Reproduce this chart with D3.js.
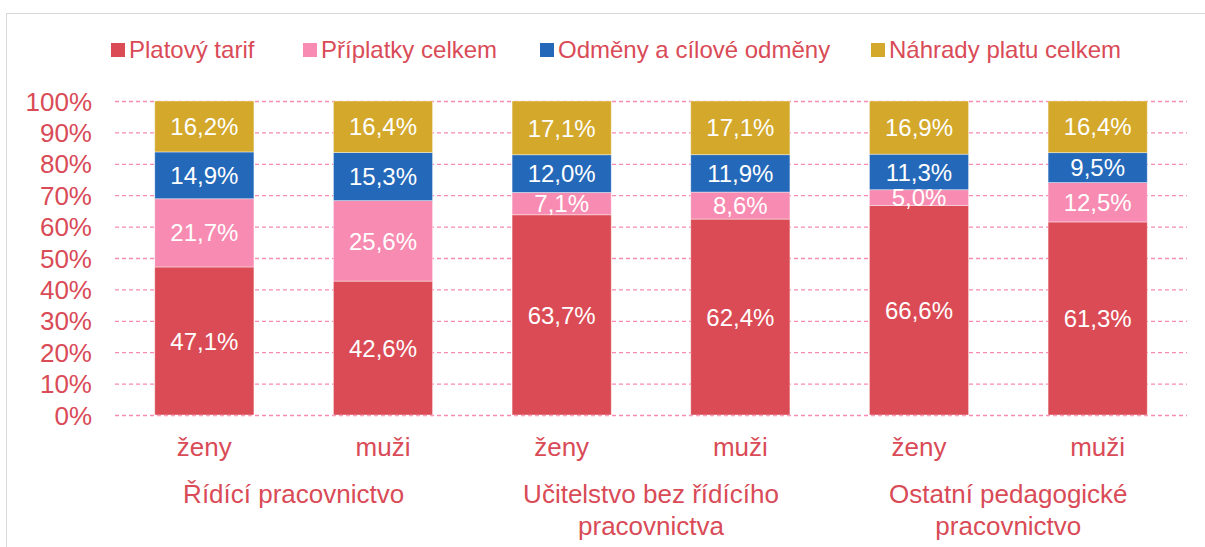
<!DOCTYPE html>
<html>
<head>
<meta charset="utf-8">
<script src="https://cdn.jsdelivr.net/npm/d3@7"></script>
<style>
  body { margin: 0; background: #fff; }
  svg text { font-family: "Liberation Sans", Arial, sans-serif; }
</style>
</head>
<body>
<script>
// chart data
var series = ["Platový tarif", "Příplatky celkem", "Odměny a cílové odměny", "Náhrady platu celkem"];
var colors = ["#db4b55", "#f78bb1", "#2469b9", "#d3a82b"];
var genders = ["ženy", "muži", "ženy", "muži", "ženy", "muži"];
var groups = [["Řídící pracovnictvo"], ["Učitelstvo bez řídícího", "pracovnictva"], ["Ostatní pedagogické", "pracovnictvo"]];
var platovyTarif = [47.1, 42.6, 63.7, 62.4, 66.6, 61.3];
var priplatky = [21.7, 25.6, 7.1, 8.6, 5.0, 12.5];
var odmeny = [14.9, 15.3, 12.0, 11.9, 11.3, 9.5];
var nahrady = [16.2, 16.4, 17.1, 17.1, 16.9, 16.4];
var yTicks = [0, 0.1, 0.2, 0.3, 0.4, 0.5, 0.6, 0.7, 0.8, 0.9, 1];

var width = 1205, height = 547;
var textColor = "#d94b57";

var svg = d3.select("body").append("svg")
    .attr("width", width)
    .attr("height", height);

// outer frame (cut off on right and bottom)
svg.append("rect")
    .attr("x", 6.5).attr("y", 13.5)
    .attr("width", 1400).attr("height", 700)
    .attr("fill", "none")
    .attr("stroke", "#d9d9d9");

var rows = genders.map(function(g, i){
    return { idx: i, s0: platovyTarif[i], s1: priplatky[i], s2: odmeny[i], s3: nahrady[i] };
});
var keys = ["s0", "s1", "s2", "s3"];
var values = [platovyTarif, priplatky, odmeny, nahrady];

var stack = d3.stack().keys(keys).offset(d3.stackOffsetExpand);
var stacked = stack(rows);

var x = d3.scaleBand()
    .domain(d3.range(genders.length))
    .range([115, 1187])
    .paddingInner(0.445)
    .paddingOuter(0.2225);

var y = d3.scaleLinear().domain([0, 1]).range([415, 101]);

// gridlines
svg.append("g").selectAll("line")
    .data(yTicks).enter().append("line")
    .attr("x1", 115).attr("x2", 1187)
    .attr("y1", function(d){ return y(d) + 0.5; })
    .attr("y2", function(d){ return y(d) + 0.5; })
    .attr("stroke", "#f78bb1")
    .attr("stroke-width", 1.3)
    .attr("stroke-dasharray", "4,3");

// y axis labels
var yAxis = d3.axisLeft(y).tickValues(yTicks).tickSize(0).tickPadding(0)
    .tickFormat(function(d){ return Math.round(d * 100) + "%"; });
var ya = svg.append("g").attr("transform", "translate(92,0)").call(yAxis);
ya.select(".domain").remove();
ya.selectAll("text")
    .attr("fill", textColor)
    .attr("font-size", "26px")
    .attr("dy", "0.35em")
    .style("font-family", "Liberation Sans, Arial, sans-serif");

// bars
var layers = svg.append("g").selectAll("g")
    .data(stacked).enter().append("g")
    .attr("fill", function(d, i){ return colors[i]; });

layers.selectAll("rect")
    .data(function(d){ return d; })
    .enter().append("rect")
    .attr("x", function(d){ return x(d.data.idx); })
    .attr("width", x.bandwidth())
    .attr("y", function(d){ return y(d[1]); })
    .attr("height", function(d){ return y(d[0]) - y(d[1]); })
    .attr("stroke", "#ffffff")
    .attr("stroke-opacity", 0.5)
    .attr("stroke-width", 0.8);

// data labels
stacked.forEach(function(layer, si){
    svg.append("g").selectAll("text")
        .data(layer).enter().append("text")
        .attr("x", function(d){ return x(d.data.idx) + x.bandwidth() / 2; })
        .attr("y", function(d){ return (y(d[0]) + y(d[1])) / 2; })
        .attr("dy", "0.36em")
        .attr("text-anchor", "middle")
        .attr("fill", "#fff")
        .attr("font-size", "24px")
        .text(function(d){ return values[si][d.data.idx].toFixed(1).replace(".", ",") + "%"; });
});

// category labels
svg.append("g").selectAll("text")
    .data(genders).enter().append("text")
    .attr("x", function(d, i){ return x(i) + x.bandwidth() / 2; })
    .attr("y", 456)
    .attr("text-anchor", "middle")
    .attr("fill", textColor)
    .attr("font-size", "26px")
    .text(function(d){ return d; });

// group labels
groups.forEach(function(lines, gi){
    var cx = (x(gi * 2) + x(gi * 2 + 1) + x.bandwidth()) / 2;
    var t = svg.append("text")
        .attr("text-anchor", "middle")
        .attr("fill", textColor)
        .attr("font-size", "26px");
    lines.forEach(function(l, li){
        t.append("tspan").attr("x", cx).attr("y", 503 + li * 32).text(l);
    });
});

// legend
var legendX = [111, 303, 540, 871];
var leg = svg.append("g").selectAll("g")
    .data(series).enter().append("g")
    .attr("transform", function(d, i){ return "translate(" + legendX[i] + ",0)"; });
leg.append("rect")
    .attr("x", 0).attr("y", 43)
    .attr("width", 14).attr("height", 14)
    .attr("fill", function(d, i){ return colors[i]; });
leg.append("text")
    .attr("x", 18).attr("y", 57.5)
    .attr("fill", textColor)
    .attr("font-size", "24px")
    .text(function(d){ return d; });
</script>
</body>
</html>
